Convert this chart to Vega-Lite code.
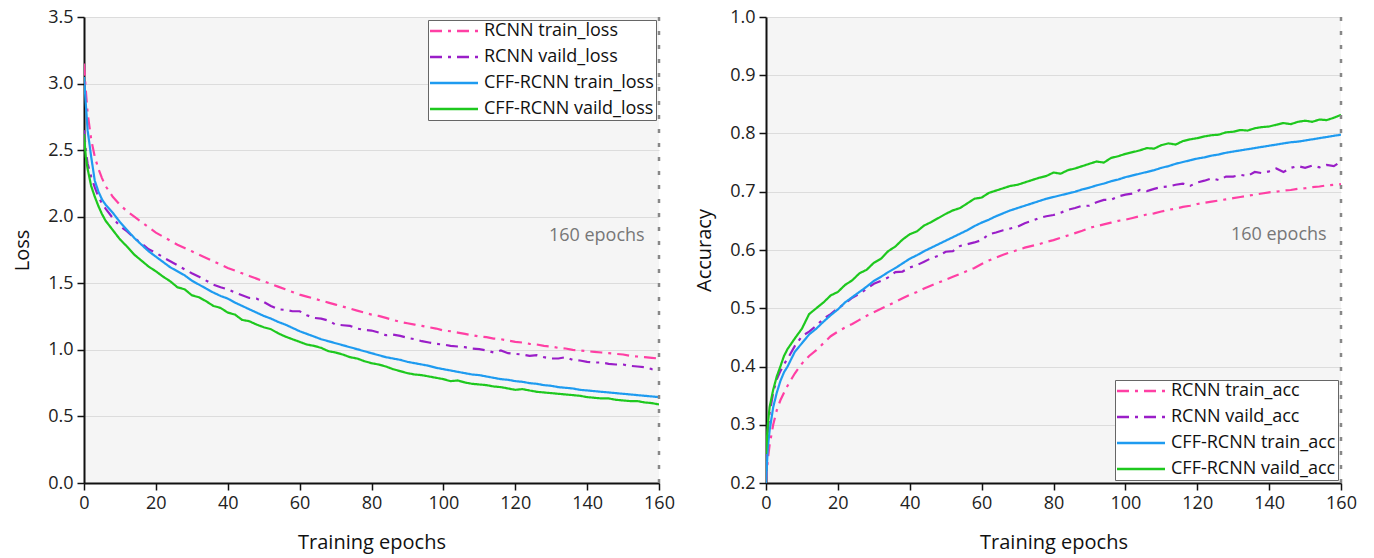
{
"$schema": "https://vega.github.io/schema/vega-lite/v6.json",
"background": "white",
"padding": {"left": 12, "top": 8, "right": 5, "bottom": 2},
"spacing": 107,
"bounds": "flush",
"config": {
  "font": "Open Sans",
  "view": {"fill": "#f5f5f5", "stroke": null},
  "axis": {"domainColor": "#111", "domainWidth": 2, "tickColor": "#111", "tickWidth": 1.5, "labelFontSize": 18, "labelColor": "#222", "labelFont": "Open Sans", "titleFont": "Open Sans", "titleFontSize": 20, "titleFontWeight": "normal", "titleColor": "#111", "gridColor": "#dcdcdc", "gridWidth": 1.2, "labelOverlap": false, "labelFlush": false, "labelPadding": 4},
  "legend": {"fillColor": "white", "strokeColor": "#666", "padding": 2, "labelFontSize": 18, "labelFont": "Open Sans", "labelColor": "#111", "symbolType": "M-4,0H4", "symbolStrokeWidth": 2.5, "symbolSize": 144, "symbolOffset": 15, "labelOffset": 21, "rowPadding": 8, "labelLimit": 400, "offset": 3}
},
"datasets": {
"loss": [
{"e":0,"rt":3.15,"rv":2.65,"ct":3.05,"cv":2.62},
{"e":0.5,"rt":2.95,"rv":2.50,"ct":2.85,"cv":2.45},
{"e":1,"rt":2.78,"rv":2.40,"ct":2.65,"cv":2.36},
{"e":2,"rt":2.58,"rv":2.30,"ct":2.45,"cv":2.23},
{"e":3,"rt":2.45,"rv":2.22,"ct":2.27,"cv":2.15},
{"e":4,"rt":2.36,"rv":2.15,"ct":2.19,"cv":2.08},
{"e":5,"rt":2.29,"rv":2.10,"ct":2.13,"cv":2.02},
{"e":6,"rt":2.23,"rv":2.06,"ct":2.09,"cv":1.97},
{"e":8,"rt":2.15,"rv":1.99,"ct":2.03,"cv":1.90},
{"e":10,"rt":2.09,"rv":1.93,"ct":1.96,"cv":1.83},
{"e":12,"rt":2.04,"rv":1.89,"ct":1.90,"cv":1.775},
{"e":14,"rt":2.00,"rv":1.84,"ct":1.84,"cv":1.715},
{"e":16,"rt":1.96,"rv":1.80,"ct":1.79,"cv":1.67},
{"e":18,"rt":1.92,"rv":1.755,"ct":1.74,"cv":1.625},
{"e":20,"rt":1.88,"rv":1.73,"ct":1.70,"cv":1.59},
{"e":22,"rt":1.85,"rv":1.695,"ct":1.66,"cv":1.55},
{"e":24,"rt":1.82,"rv":1.665,"ct":1.62,"cv":1.515},
{"e":26,"rt":1.79,"rv":1.635,"ct":1.59,"cv":1.47},
{"e":28,"rt":1.765,"rv":1.605,"ct":1.56,"cv":1.455},
{"e":30,"rt":1.74,"rv":1.575,"ct":1.52,"cv":1.41},
{"e":32,"rt":1.715,"rv":1.55,"ct":1.49,"cv":1.395},
{"e":34,"rt":1.69,"rv":1.52,"ct":1.46,"cv":1.365},
{"e":36,"rt":1.665,"rv":1.49,"ct":1.43,"cv":1.33},
{"e":38,"rt":1.64,"rv":1.47,"ct":1.405,"cv":1.315},
{"e":40,"rt":1.615,"rv":1.455,"ct":1.385,"cv":1.28},
{"e":42,"rt":1.595,"rv":1.43,"ct":1.355,"cv":1.265},
{"e":44,"rt":1.575,"rv":1.41,"ct":1.33,"cv":1.225},
{"e":46,"rt":1.555,"rv":1.39,"ct":1.305,"cv":1.215},
{"e":48,"rt":1.535,"rv":1.385,"ct":1.28,"cv":1.19},
{"e":50,"rt":1.515,"rv":1.36,"ct":1.255,"cv":1.17},
{"e":52,"rt":1.495,"rv":1.33,"ct":1.235,"cv":1.155},
{"e":54,"rt":1.475,"rv":1.305,"ct":1.21,"cv":1.125},
{"e":56,"rt":1.455,"rv":1.30,"ct":1.19,"cv":1.10},
{"e":58,"rt":1.435,"rv":1.29,"ct":1.165,"cv":1.08},
{"e":60,"rt":1.415,"rv":1.29,"ct":1.14,"cv":1.06},
{"e":62,"rt":1.40,"rv":1.26,"ct":1.12,"cv":1.04},
{"e":64,"rt":1.385,"rv":1.24,"ct":1.10,"cv":1.03},
{"e":66,"rt":1.37,"rv":1.235,"ct":1.08,"cv":1.015},
{"e":68,"rt":1.355,"rv":1.22,"ct":1.065,"cv":0.99},
{"e":70,"rt":1.34,"rv":1.19,"ct":1.05,"cv":0.98},
{"e":72,"rt":1.325,"rv":1.185,"ct":1.035,"cv":0.965},
{"e":74,"rt":1.31,"rv":1.18,"ct":1.02,"cv":0.945},
{"e":76,"rt":1.295,"rv":1.16,"ct":1.005,"cv":0.935},
{"e":78,"rt":1.28,"rv":1.15,"ct":0.99,"cv":0.915},
{"e":80,"rt":1.265,"rv":1.145,"ct":0.975,"cv":0.90},
{"e":82,"rt":1.255,"rv":1.13,"ct":0.96,"cv":0.89},
{"e":84,"rt":1.24,"rv":1.11,"ct":0.945,"cv":0.875},
{"e":86,"rt":1.225,"rv":1.115,"ct":0.935,"cv":0.855},
{"e":88,"rt":1.21,"rv":1.105,"ct":0.925,"cv":0.84},
{"e":90,"rt":1.20,"rv":1.09,"ct":0.91,"cv":0.825},
{"e":92,"rt":1.19,"rv":1.08,"ct":0.90,"cv":0.815},
{"e":94,"rt":1.18,"rv":1.065,"ct":0.89,"cv":0.81},
{"e":96,"rt":1.17,"rv":1.055,"ct":0.88,"cv":0.80},
{"e":98,"rt":1.16,"rv":1.045,"ct":0.865,"cv":0.79},
{"e":100,"rt":1.145,"rv":1.04,"ct":0.855,"cv":0.78},
{"e":102,"rt":1.14,"rv":1.03,"ct":0.845,"cv":0.765},
{"e":104,"rt":1.13,"rv":1.025,"ct":0.835,"cv":0.77},
{"e":106,"rt":1.12,"rv":1.02,"ct":0.825,"cv":0.755},
{"e":108,"rt":1.11,"rv":1.01,"ct":0.815,"cv":0.745},
{"e":110,"rt":1.10,"rv":1.005,"ct":0.81,"cv":0.74},
{"e":112,"rt":1.095,"rv":0.995,"ct":0.80,"cv":0.735},
{"e":114,"rt":1.085,"rv":0.98,"ct":0.79,"cv":0.725},
{"e":116,"rt":1.08,"rv":0.995,"ct":0.78,"cv":0.72},
{"e":118,"rt":1.07,"rv":0.975,"ct":0.775,"cv":0.71},
{"e":120,"rt":1.06,"rv":0.97,"ct":0.765,"cv":0.70},
{"e":122,"rt":1.055,"rv":0.965,"ct":0.76,"cv":0.705},
{"e":124,"rt":1.045,"rv":0.955,"ct":0.75,"cv":0.695},
{"e":126,"rt":1.04,"rv":0.96,"ct":0.745,"cv":0.685},
{"e":128,"rt":1.03,"rv":0.945,"ct":0.735,"cv":0.68},
{"e":130,"rt":1.025,"rv":0.935,"ct":0.73,"cv":0.675},
{"e":132,"rt":1.015,"rv":0.935,"ct":0.72,"cv":0.67},
{"e":134,"rt":1.01,"rv":0.945,"ct":0.715,"cv":0.665},
{"e":136,"rt":1.00,"rv":0.925,"ct":0.71,"cv":0.66},
{"e":138,"rt":0.995,"rv":0.92,"ct":0.70,"cv":0.655},
{"e":140,"rt":0.99,"rv":0.91,"ct":0.695,"cv":0.645},
{"e":142,"rt":0.985,"rv":0.905,"ct":0.69,"cv":0.64},
{"e":144,"rt":0.98,"rv":0.905,"ct":0.685,"cv":0.635},
{"e":146,"rt":0.975,"rv":0.895,"ct":0.68,"cv":0.635},
{"e":148,"rt":0.97,"rv":0.89,"ct":0.675,"cv":0.625},
{"e":150,"rt":0.965,"rv":0.89,"ct":0.67,"cv":0.62},
{"e":152,"rt":0.955,"rv":0.88,"ct":0.665,"cv":0.615},
{"e":154,"rt":0.95,"rv":0.875,"ct":0.66,"cv":0.615},
{"e":156,"rt":0.945,"rv":0.87,"ct":0.655,"cv":0.605},
{"e":158,"rt":0.94,"rv":0.855,"ct":0.65,"cv":0.60},
{"e":160,"rt":0.935,"rv":0.86,"ct":0.645,"cv":0.59}
],
"acc": [
{"e":0,"rt":0.20,"rv":0.24,"ct":0.20,"cv":0.25},
{"e":0.5,"rt":0.24,"rv":0.29,"ct":0.26,"cv":0.30},
{"e":1,"rt":0.265,"rv":0.32,"ct":0.29,"cv":0.33},
{"e":2,"rt":0.30,"rv":0.355,"ct":0.33,"cv":0.36},
{"e":3,"rt":0.325,"rv":0.378,"ct":0.355,"cv":0.383},
{"e":4,"rt":0.342,"rv":0.392,"ct":0.375,"cv":0.40},
{"e":5,"rt":0.355,"rv":0.404,"ct":0.39,"cv":0.418},
{"e":6,"rt":0.367,"rv":0.413,"ct":0.40,"cv":0.43},
{"e":8,"rt":0.388,"rv":0.435,"ct":0.425,"cv":0.448},
{"e":10,"rt":0.405,"rv":0.452,"ct":0.44,"cv":0.465},
{"e":12,"rt":0.418,"rv":0.46,"ct":0.455,"cv":0.49},
{"e":14,"rt":0.428,"rv":0.47,"ct":0.465,"cv":0.50},
{"e":16,"rt":0.44,"rv":0.482,"ct":0.477,"cv":0.51},
{"e":18,"rt":0.452,"rv":0.49,"ct":0.488,"cv":0.522},
{"e":20,"rt":0.46,"rv":0.50,"ct":0.498,"cv":0.528},
{"e":22,"rt":0.467,"rv":0.508,"ct":0.51,"cv":0.54},
{"e":24,"rt":0.473,"rv":0.518,"ct":0.519,"cv":0.548},
{"e":26,"rt":0.48,"rv":0.525,"ct":0.528,"cv":0.56},
{"e":28,"rt":0.487,"rv":0.533,"ct":0.537,"cv":0.566},
{"e":30,"rt":0.493,"rv":0.542,"ct":0.547,"cv":0.578},
{"e":32,"rt":0.499,"rv":0.547,"ct":0.554,"cv":0.585},
{"e":34,"rt":0.505,"rv":0.553,"ct":0.562,"cv":0.598},
{"e":36,"rt":0.511,"rv":0.562,"ct":0.569,"cv":0.606},
{"e":38,"rt":0.517,"rv":0.563,"ct":0.577,"cv":0.618},
{"e":40,"rt":0.523,"rv":0.57,"ct":0.585,"cv":0.627},
{"e":42,"rt":0.528,"rv":0.574,"ct":0.591,"cv":0.632},
{"e":44,"rt":0.534,"rv":0.58,"ct":0.598,"cv":0.642},
{"e":46,"rt":0.539,"rv":0.586,"ct":0.604,"cv":0.648},
{"e":48,"rt":0.544,"rv":0.59,"ct":0.61,"cv":0.655},
{"e":50,"rt":0.549,"rv":0.597,"ct":0.616,"cv":0.662},
{"e":52,"rt":0.554,"rv":0.598,"ct":0.622,"cv":0.668},
{"e":54,"rt":0.559,"rv":0.607,"ct":0.628,"cv":0.672},
{"e":56,"rt":0.564,"rv":0.61,"ct":0.634,"cv":0.68},
{"e":58,"rt":0.569,"rv":0.613,"ct":0.641,"cv":0.688},
{"e":60,"rt":0.576,"rv":0.617,"ct":0.647,"cv":0.69},
{"e":62,"rt":0.582,"rv":0.627,"ct":0.652,"cv":0.698},
{"e":64,"rt":0.587,"rv":0.63,"ct":0.658,"cv":0.702},
{"e":66,"rt":0.592,"rv":0.634,"ct":0.663,"cv":0.706},
{"e":68,"rt":0.596,"rv":0.637,"ct":0.668,"cv":0.71},
{"e":70,"rt":0.60,"rv":0.64,"ct":0.672,"cv":0.712},
{"e":72,"rt":0.604,"rv":0.646,"ct":0.676,"cv":0.716},
{"e":74,"rt":0.607,"rv":0.65,"ct":0.68,"cv":0.72},
{"e":76,"rt":0.61,"rv":0.655,"ct":0.684,"cv":0.724},
{"e":78,"rt":0.614,"rv":0.658,"ct":0.688,"cv":0.727},
{"e":80,"rt":0.617,"rv":0.66,"ct":0.691,"cv":0.733},
{"e":82,"rt":0.621,"rv":0.664,"ct":0.694,"cv":0.731},
{"e":84,"rt":0.625,"rv":0.669,"ct":0.697,"cv":0.737},
{"e":86,"rt":0.629,"rv":0.672,"ct":0.70,"cv":0.74},
{"e":88,"rt":0.633,"rv":0.676,"ct":0.704,"cv":0.744},
{"e":90,"rt":0.638,"rv":0.676,"ct":0.707,"cv":0.748},
{"e":92,"rt":0.641,"rv":0.682,"ct":0.711,"cv":0.752},
{"e":94,"rt":0.644,"rv":0.686,"ct":0.714,"cv":0.75},
{"e":96,"rt":0.647,"rv":0.686,"ct":0.718,"cv":0.758},
{"e":98,"rt":0.65,"rv":0.692,"ct":0.721,"cv":0.761},
{"e":100,"rt":0.652,"rv":0.695,"ct":0.725,"cv":0.765},
{"e":102,"rt":0.655,"rv":0.697,"ct":0.728,"cv":0.768},
{"e":104,"rt":0.658,"rv":0.703,"ct":0.731,"cv":0.771},
{"e":106,"rt":0.661,"rv":0.701,"ct":0.734,"cv":0.775},
{"e":108,"rt":0.663,"rv":0.705,"ct":0.737,"cv":0.774},
{"e":110,"rt":0.666,"rv":0.708,"ct":0.741,"cv":0.78},
{"e":112,"rt":0.669,"rv":0.709,"ct":0.744,"cv":0.783},
{"e":114,"rt":0.671,"rv":0.712,"ct":0.748,"cv":0.781},
{"e":116,"rt":0.674,"rv":0.714,"ct":0.751,"cv":0.787},
{"e":118,"rt":0.676,"rv":0.71,"ct":0.754,"cv":0.79},
{"e":120,"rt":0.679,"rv":0.716,"ct":0.757,"cv":0.792},
{"e":122,"rt":0.681,"rv":0.719,"ct":0.759,"cv":0.795},
{"e":124,"rt":0.683,"rv":0.723,"ct":0.762,"cv":0.797},
{"e":126,"rt":0.685,"rv":0.72,"ct":0.764,"cv":0.798},
{"e":128,"rt":0.687,"rv":0.726,"ct":0.767,"cv":0.802},
{"e":130,"rt":0.689,"rv":0.726,"ct":0.769,"cv":0.803},
{"e":132,"rt":0.691,"rv":0.729,"ct":0.771,"cv":0.806},
{"e":134,"rt":0.693,"rv":0.727,"ct":0.773,"cv":0.805},
{"e":136,"rt":0.695,"rv":0.734,"ct":0.775,"cv":0.809},
{"e":138,"rt":0.697,"rv":0.732,"ct":0.777,"cv":0.811},
{"e":140,"rt":0.699,"rv":0.735,"ct":0.779,"cv":0.812},
{"e":142,"rt":0.70,"rv":0.74,"ct":0.781,"cv":0.815},
{"e":144,"rt":0.702,"rv":0.734,"ct":0.783,"cv":0.818},
{"e":146,"rt":0.703,"rv":0.741,"ct":0.785,"cv":0.816},
{"e":148,"rt":0.705,"rv":0.744,"ct":0.786,"cv":0.82},
{"e":150,"rt":0.706,"rv":0.741,"ct":0.788,"cv":0.822},
{"e":152,"rt":0.708,"rv":0.745,"ct":0.79,"cv":0.82},
{"e":154,"rt":0.709,"rv":0.742,"ct":0.792,"cv":0.824},
{"e":156,"rt":0.711,"rv":0.746,"ct":0.794,"cv":0.823},
{"e":158,"rt":0.712,"rv":0.744,"ct":0.796,"cv":0.827},
{"e":160,"rt":0.713,"rv":0.752,"ct":0.798,"cv":0.832}
]
},
"hconcat": [
{
  "width": 575, "height": 466,
  "layer": [
    {
      "data": {"name": "loss"},
      "transform": [{"fold": ["rt", "rv", "ct", "cv"], "as": ["series", "v"]}],
      "mark": {"type": "line", "strokeWidth": 2.2, "clip": true},
      "encoding": {
        "x": {"field": "e", "type": "quantitative", "scale": {"domain": [0, 160], "nice": false},
              "axis": {"values": [0,10,20,30,40,50,60,70,80,90,100,110,120,130,140,150,160], "grid": false, "title": "Training epochs", "titlePadding": 20,
                       "labelExpr": "datum.value % 20 === 0 ? datum.label : ''",
                       "tickSize": {"condition": {"test": "datum.value % 20 !== 0", "value": 4}, "value": 7}}},
        "y": {"field": "v", "type": "quantitative", "scale": {"domain": [0, 3.5], "nice": false},
              "axis": {"values": [0,0.25,0.5,0.75,1,1.25,1.5,1.75,2,2.25,2.5,2.75,3,3.25,3.5], "format": ".1f", "title": "Loss", "titlePadding": 15,
                       "labelExpr": "datum.value % 0.5 !== 0 ? '' : datum.label",
                       "gridOpacity": {"condition": {"test": "datum.value % 0.5 !== 0", "value": 0}, "value": 1},
                       "tickSize": {"condition": {"test": "datum.value % 0.5 !== 0", "value": 4}, "value": 7}}},
        "color": {"field": "series", "type": "nominal",
                  "scale": {"domain": ["rt", "rv", "ct", "cv"], "range": ["#ff3fa4", "#9a1ec8", "#1e9bf0", "#1ec81e"]},
                  "legend": {"orient": "top-right", "title": null, "labelExpr": "{'rt':'RCNN train_loss','rv':'RCNN vaild_loss','ct':'CFF-RCNN train_loss','cv':'CFF-RCNN vaild_loss'}[datum.label]"}},
        "strokeDash": {"field": "series", "type": "nominal",
                  "scale": {"domain": ["rt", "rv", "ct", "cv"], "range": [[12,6,3,6],[12,6,3,6],[1,0],[1,0]]},
                  "legend": {"orient": "top-right", "title": null, "labelExpr": "{'rt':'RCNN train_loss','rv':'RCNN vaild_loss','ct':'CFF-RCNN train_loss','cv':'CFF-RCNN vaild_loss'}[datum.label]"}}
      }
    },
    {
      "data": {"values": [{}]},
      "mark": {"type": "rule", "color": "#888", "strokeWidth": 2.5, "strokeDash": [4, 10]},
      "encoding": {"x": {"datum": 160}}
    },
    {
      "data": {"values": [{}]},
      "mark": {"type": "text", "align": "right", "baseline": "middle", "fontSize": 18, "font": "Open Sans", "color": "#777"},
      "encoding": {"x": {"datum": 156}, "y": {"datum": 1.855}, "text": {"value": "160 epochs"}}
    }
  ]
},
{
  "width": 575, "height": 466,
  "layer": [
    {
      "data": {"name": "acc"},
      "transform": [{"fold": ["rt", "rv", "ct", "cv"], "as": ["series", "v"]}],
      "mark": {"type": "line", "strokeWidth": 2.2, "clip": true},
      "encoding": {
        "x": {"field": "e", "type": "quantitative", "scale": {"domain": [0, 160], "nice": false},
              "axis": {"values": [0,10,20,30,40,50,60,70,80,90,100,110,120,130,140,150,160], "grid": false, "title": "Training epochs", "titlePadding": 20,
                       "labelExpr": "datum.value % 20 === 0 ? datum.label : ''",
                       "tickSize": {"condition": {"test": "datum.value % 20 !== 0", "value": 4}, "value": 7}}},
        "y": {"field": "v", "type": "quantitative", "scale": {"domain": [0.2, 1.0], "nice": false, "zero": false},
              "axis": {"values": [0.2,0.25,0.3,0.35,0.4,0.45,0.5,0.55,0.6,0.65,0.7,0.75,0.8,0.85,0.9,0.95,1.0], "format": ".1f", "title": "Accuracy", "titlePadding": 15,
                       "labelExpr": "round(datum.value*20) % 2 === 1 ? '' : datum.label",
                       "gridOpacity": {"condition": {"test": "round(datum.value*20) % 2 === 1", "value": 0}, "value": 1},
                       "tickSize": {"condition": {"test": "round(datum.value*20) % 2 === 1", "value": 4}, "value": 7}}},
        "color": {"field": "series", "type": "nominal",
                  "scale": {"domain": ["rt", "rv", "ct", "cv"], "range": ["#ff3fa4", "#9a1ec8", "#1e9bf0", "#1ec81e"]},
                  "legend": {"orient": "bottom-right", "title": null, "labelExpr": "{'rt':'RCNN train_acc','rv':'RCNN vaild_acc','ct':'CFF-RCNN train_acc','cv':'CFF-RCNN vaild_acc'}[datum.label]"}},
        "strokeDash": {"field": "series", "type": "nominal",
                  "scale": {"domain": ["rt", "rv", "ct", "cv"], "range": [[12,6,3,6],[12,6,3,6],[1,0],[1,0]]},
                  "legend": {"orient": "bottom-right", "title": null, "labelExpr": "{'rt':'RCNN train_acc','rv':'RCNN vaild_acc','ct':'CFF-RCNN train_acc','cv':'CFF-RCNN vaild_acc'}[datum.label]"}}
      }
    },
    {
      "data": {"values": [{}]},
      "mark": {"type": "rule", "color": "#888", "strokeWidth": 2.5, "strokeDash": [4, 10]},
      "encoding": {"x": {"datum": 160}}
    },
    {
      "data": {"values": [{}]},
      "mark": {"type": "text", "align": "right", "baseline": "middle", "fontSize": 18, "font": "Open Sans", "color": "#777"},
      "encoding": {"x": {"datum": 156}, "y": {"datum": 0.626}, "text": {"value": "160 epochs"}}
    }
  ]
}
],
"resolve": {"scale": {"color": "independent", "strokeDash": "independent", "x": "independent", "y": "independent"}, "legend": {"color": "independent", "strokeDash": "independent"}}
}
